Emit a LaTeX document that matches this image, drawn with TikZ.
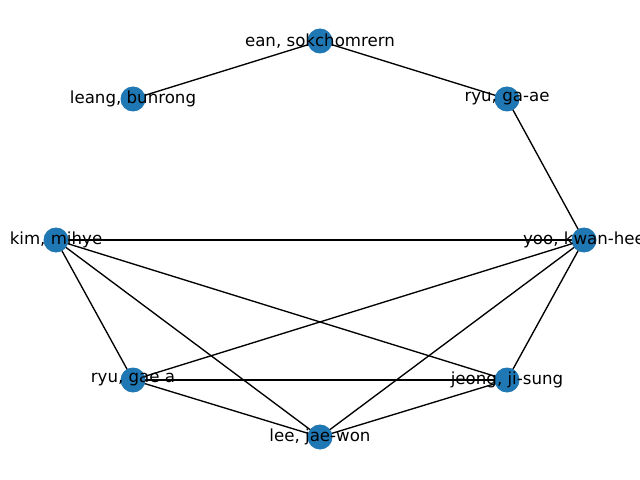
\documentclass[tikz,border=0pt]{standalone}
\usepackage{fontspec}
\setmainfont{DejaVu Sans}
\definecolor{tabblue}{HTML}{1F77B4}
\begin{document}
\begin{tikzpicture}[x=0.03cm,y=-0.03cm,
  vert/.style={circle,fill=tabblue,minimum size=25*0.03cm,inner sep=0pt},
  lab/.style={font=\fontsize{14.2}{16}\selectfont,inner sep=0pt,text=black},
  edge/.style={draw=black,line width=1.15pt}]
\clip (0,0) rectangle (640,480);
\useasboundingbox (0,0) rectangle (640,480);
\fill[white] (0,0) rectangle (640,480);
\coordinate (ean) at (320,41);
\coordinate (leang) at (133,99);
\coordinate (ryuga) at (507,99);
\coordinate (kim) at (56,240);
\coordinate (yoo) at (584,240);
\coordinate (ryugae) at (133,380);
\coordinate (jeong) at (507,380);
\coordinate (lee) at (320,437);
\foreach \a/\b in {leang/ean, ean/ryuga, ryuga/yoo, kim/yoo, kim/ryugae, kim/lee, kim/jeong, yoo/ryugae, yoo/lee, yoo/jeong, ryugae/jeong, ryugae/lee, lee/jeong}
  \draw[edge] (\a) -- (\b);
\foreach \n in {ean,leang,ryuga,kim,yoo,ryugae,jeong,lee}
  \node[vert] (v\n) at (\n) {};
\node[lab] (tean) at (ean) {ean, sokchomrern};
\node[lab] (tleang) at (leang) {leang, bunrong};
\node[lab] (tryuga) at (ryuga) {ryu, ga-ae};
\node[lab] (tkim) at (kim) {kim, mihye};
\node[lab] (tyoo) at (yoo) {yoo, kwan-hee};
\node[lab] (tryugae) at (ryugae) {ryu, gae a};
\node[lab] (tjeong) at (jeong) {jeong, ji-sung};
\node[lab] (tlee) at (lee) {lee, jae-won};
\end{tikzpicture}
\end{document}
